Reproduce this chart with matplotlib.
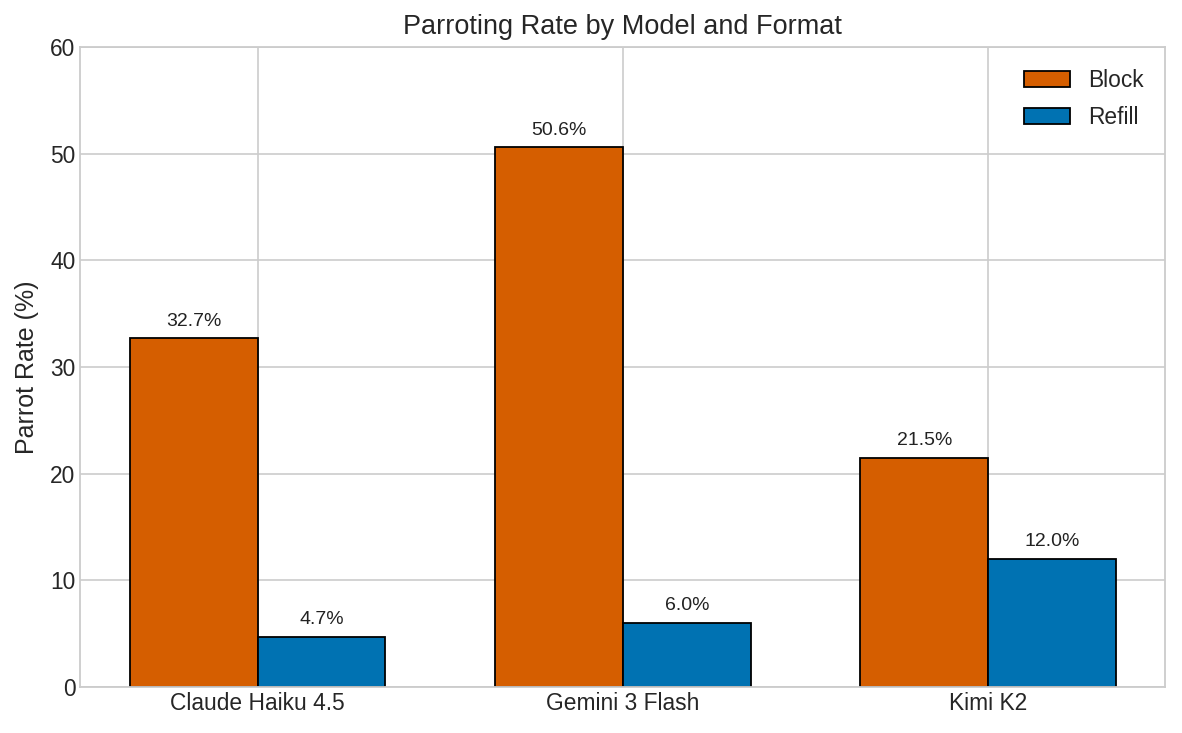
import matplotlib.pyplot as plt
import numpy as np

models = ['Claude Haiku 4.5', 'Gemini 3 Flash', 'Kimi K2']
block_rates = [32.7, 50.6, 21.5]
refill_rates = [4.7, 6.0, 12.0]

plt.style.use('seaborn-v0_8-whitegrid')
plt.rcParams['font.family'] = ['Liberation Sans', 'DejaVu Sans']

fig, ax = plt.subplots(figsize=(11.82, 7.33), dpi=100)
fig.subplots_adjust(left=0.068, right=0.986, top=0.936, bottom=0.063)

x = np.arange(len(models))
w = 0.35
b1 = ax.bar(x - w / 2, block_rates, w, label='Block', color='#D55E00', edgecolor='black', linewidth=1.3)
b2 = ax.bar(x + w / 2, refill_rates, w, label='Refill', color='#0072B2', edgecolor='black', linewidth=1.3)

for bars in (b1, b2):
    for bar in bars:
        h = bar.get_height()
        ax.text(bar.get_x() + bar.get_width() / 2, h + 0.8, f'{h:.1f}%',
                ha='center', va='bottom', fontsize=14, color='#222222')

ax.set_xticks(x)
ax.set_xticklabels(models, fontsize=16.4)
ax.tick_params(axis='y', labelsize=16.4)
ax.set_ylim(0, 60)
ax.set_ylabel('Parrot Rate (%)', fontsize=18, labelpad=8)
ax.set_title('Parroting Rate by Model and Format', fontsize=19.5, pad=9)
ax.grid(True, color='#cccccc', linewidth=1.2)
for s in ax.spines.values():
    s.set_visible(True)
    s.set_color('#cccccc')
    s.set_linewidth(1.3)
ax.legend(fontsize=16.4, frameon=False, loc='upper right', labelspacing=0.65,
          borderaxespad=0.55)

plt.savefig('out.png', dpi=100)
